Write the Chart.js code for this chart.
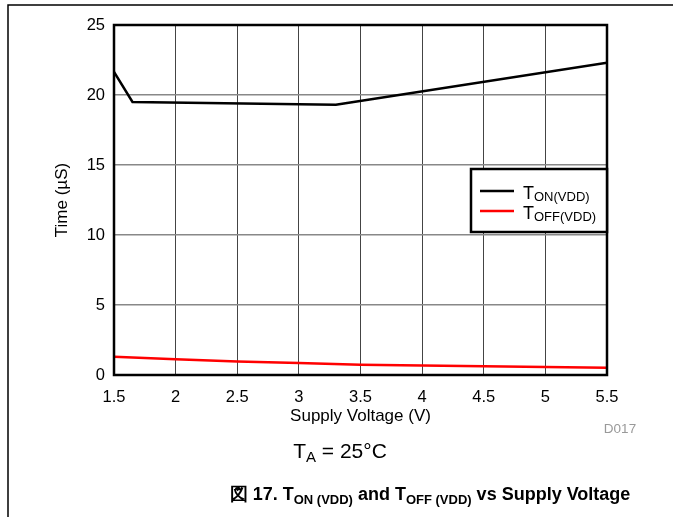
<!DOCTYPE html>
<html>
<head>
<meta charset="utf-8">
<script src="https://cdn.jsdelivr.net/npm/chart.js@4/dist/chart.umd.min.js"></script>
<style>
  html, body { margin: 0; padding: 0; background: #fff; }
  #wrap { width: 673px; height: 517px; }
</style>
</head>
<body>
<div id="wrap"><canvas id="c" width="673" height="517"></canvas></div>
<script>
// supply voltage (V) and times (uS)
const tonVdd = [1.5, 1.65, 3.3, 5.5];
const tonTime = [21.65, 19.5, 19.3, 22.3];
const toffVdd = [1.5, 2, 2.5, 3, 3.5, 4, 4.5, 5, 5.5];
const toffTime = [1.3, 1.13, 0.97, 0.85, 0.74, 0.68, 0.62, 0.57, 0.52];

const xTicks = [1.5, 2, 2.5, 3, 3.5, 4, 4.5, 5, 5.5];
const yTicks = [0, 5, 10, 15, 20, 25];

const seriesNames = [['T', 'ON(VDD)'], ['T', 'OFF(VDD)']];
const seriesColors = ['#000000', '#ff0000'];

const FONT = "'Liberation Sans', Arial, Helvetica, sans-serif";

function pts(xs, ys) {
    return xs.map((x, i) => ({ x: x, y: ys[i] }));
}

// draw text with a subscript part; parts = [[text, size, dy], ...]
function drawParts(ctx, parts, x, y, align, bold) {
    const w = parts.reduce((s, p) => {
        ctx.font = (bold ? 'bold ' : '') + p[1] + 'px ' + FONT;
        return s + ctx.measureText(p[0]).width;
    }, 0);
    let cx = align === 'center' ? x - w / 2 : x;
    ctx.textAlign = 'left';
    ctx.textBaseline = 'alphabetic';
    parts.forEach(p => {
        ctx.font = (bold ? 'bold ' : '') + p[1] + 'px ' + FONT;
        ctx.fillText(p[0], cx, y + p[2]);
        cx += ctx.measureText(p[0]).width;
    });
}

const decor = {
    id: 'decor',
    beforeDraw(chart) {
        const ctx = chart.ctx;
        ctx.save();
        ctx.fillStyle = '#fff';
        ctx.fillRect(0, 0, chart.width, chart.height);
        ctx.strokeStyle = '#000';
        ctx.lineWidth = 1.5;
        ctx.beginPath();
        ctx.moveTo(8, chart.height);
        ctx.lineTo(8, 5);
        ctx.lineTo(chart.width, 5);
        ctx.stroke();
        ctx.restore();
    },
    afterDraw(chart) {
        const ctx = chart.ctx;
        const a = chart.chartArea;
        ctx.save();
        // plot frame
        ctx.strokeStyle = '#000';
        ctx.lineWidth = 2.5;
        ctx.strokeRect(a.left, a.top, a.right - a.left, a.bottom - a.top);

        // legend box
        const lx = 471, ly = 169, lw = a.right - 471, lh = 63;
        ctx.fillStyle = '#fff';
        ctx.fillRect(lx, ly, lw, lh);
        ctx.lineWidth = 2.5;
        ctx.strokeRect(lx, ly, lw, lh);
        seriesNames.forEach((n, i) => {
            const yy = 191 + i * 20;
            ctx.strokeStyle = seriesColors[i];
            ctx.lineWidth = 2.5;
            ctx.beginPath();
            ctx.moveTo(480, yy);
            ctx.lineTo(514, yy);
            ctx.stroke();
            ctx.fillStyle = '#000';
            drawParts(ctx, [[n[0], 18, 0], [n[1], 13, 2]], 523, yy + 8, 'left', false);
        });

        // notes under the chart
        ctx.fillStyle = '#999';
        ctx.font = '13.5px ' + FONT;
        ctx.textAlign = 'center';
        ctx.textBaseline = 'alphabetic';
        ctx.fillText('D017', 620, 433);

        ctx.fillStyle = '#000';
        drawParts(ctx, [['T', 21, 0], ['A', 15, 4], [' = 25°C', 21, 0]], 340, 458, 'center', false);

        drawParts(ctx, [
            ['図 17. T', 18, 0], ['ON (VDD)', 13, 4], [' and T', 18, 0],
            ['OFF (VDD)', 13, 4], [' vs Supply Voltage', 18, 0]
        ], 430, 500, 'center', true);
        ctx.restore();
    }
};

new Chart(document.getElementById('c'), {
    type: 'line',
    data: {
        datasets: [
            { label: 'TON(VDD)', data: pts(tonVdd, tonTime), borderColor: seriesColors[0], borderWidth: 2.5, pointRadius: 0, tension: 0, fill: false },
            { label: 'TOFF(VDD)', data: pts(toffVdd, toffTime), borderColor: seriesColors[1], borderWidth: 2.5, pointRadius: 0, tension: 0, fill: false }
        ]
    },
    options: {
        responsive: false,
        animation: false,
        devicePixelRatio: 1,
        layout: { padding: { left: 0, top: 25, right: 66, bottom: 90 } },
        plugins: { legend: { display: false }, tooltip: { enabled: false } },
        scales: {
            x: {
                type: 'linear',
                min: xTicks[0],
                max: xTicks[xTicks.length - 1],
                afterBuildTicks: s => { s.ticks = xTicks.map(v => ({ value: v })); },
                afterFit: s => { s.height = 52; },
                ticks: { color: '#000', padding: 13, font: { family: FONT, size: 16.5 }, callback: v => String(v) },
                grid: { color: '#444', lineWidth: 1, drawTicks: false },
                border: { display: false },
                title: { display: true, text: 'Supply Voltage (V)', color: '#000', padding: { top: 0, bottom: 0 }, font: { family: FONT, size: 17 } }
            },
            y: {
                min: yTicks[0],
                max: yTicks[yTicks.length - 1],
                afterBuildTicks: s => { s.ticks = yTicks.map(v => ({ value: v })); },
                afterFit: s => { s.width = 114; },
                ticks: { color: '#000', padding: 9, font: { family: FONT, size: 16.5 }, callback: v => String(v) },
                grid: { color: '#888', lineWidth: 1.5, drawTicks: false },
                border: { display: false },
                title: { display: true, text: 'Time (µS)', color: '#000', padding: { top: 52, bottom: 0 }, font: { family: FONT, size: 17 } }
            }
        }
    },
    plugins: [decor]
});
</script>
</body>
</html>
